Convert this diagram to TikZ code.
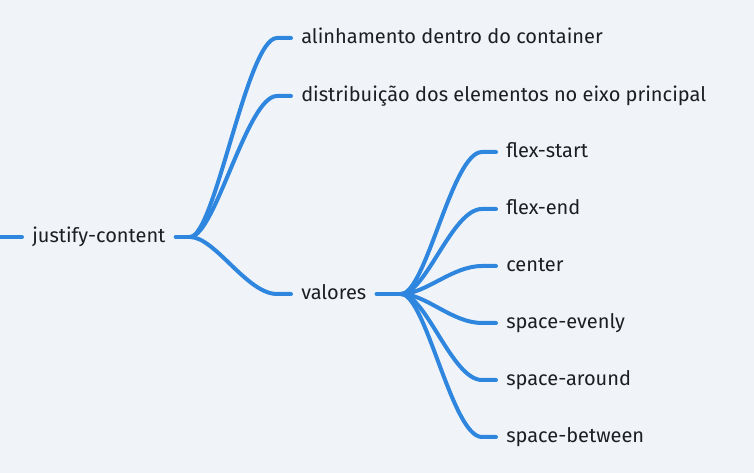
\documentclass[tikz,border=0pt]{standalone}
\usepackage{fontspec}
\setmainfont{Fira Sans}
\usetikzlibrary{calc}
\definecolor{mapblue}{RGB}{46,134,222}
\definecolor{mapbg}{RGB}{240,244,248}
\definecolor{maptext}{RGB}{28,30,34}
\newcommand{\stub}{14}
\tikzset{topic/.style={anchor=west, inner xsep=7.5pt, inner ysep=0pt, text=maptext,
    font=\fontsize{15}{18}\selectfont, text height=1.8ex, text depth=.2ex}}
\tikzset{branch/.style={draw=mapblue, line width=3pt, line cap=round}}

\begin{document}
\begin{tikzpicture}[x=0.75pt, y=-0.75pt]
  \fill[mapbg] (0,0) rectangle (754,473);
  \useasboundingbox (0,0) rectangle (754,473);

  % --- root ---
  \node[topic] (jc) at (22,237) {justify-content};
  \coordinate (in) at (-5,237);
  \coordinate (hubA) at (190,237);
  \draw[branch] (in) -- (jc.west);
  \draw[branch] (jc.east) -- (hubA);

  % --- first level ---
  \node[topic] (alin) at (291,38) {alinhamento dentro do container};
  \node[topic] (dist) at (291,96) {distribuição dos elementos no eixo principal};
  \node[topic] (val) at (291,294) {valores};

  \foreach \leaf in {alin, dist, val}
    \draw[branch] (hubA) .. controls +(25,0) and +(-30,0) .. ($(\leaf.west)+(-\stub,0)$) -- (\leaf.west);

  % --- valores ---
  \coordinate (hubB) at (401,294);
  \draw[branch] (val.east) -- (hubB);

  \node[topic] (fs) at (496,152) {flex-start};
  \node[topic] (fe) at (496,209) {flex-end};
  \node[topic] (ce) at (496,266) {center};
  \node[topic] (se) at (496,323) {space-evenly};
  \node[topic] (sa) at (496,380) {space-around};
  \node[topic] (sb) at (496,437) {space-between};

  \foreach \leaf in {fs, fe, ce, se, sa, sb}
    \draw[branch] (hubB) .. controls +(25,0) and +(-30,0) .. ($(\leaf.west)+(-\stub,0)$) -- (\leaf.west);

\end{tikzpicture}
\end{document}
